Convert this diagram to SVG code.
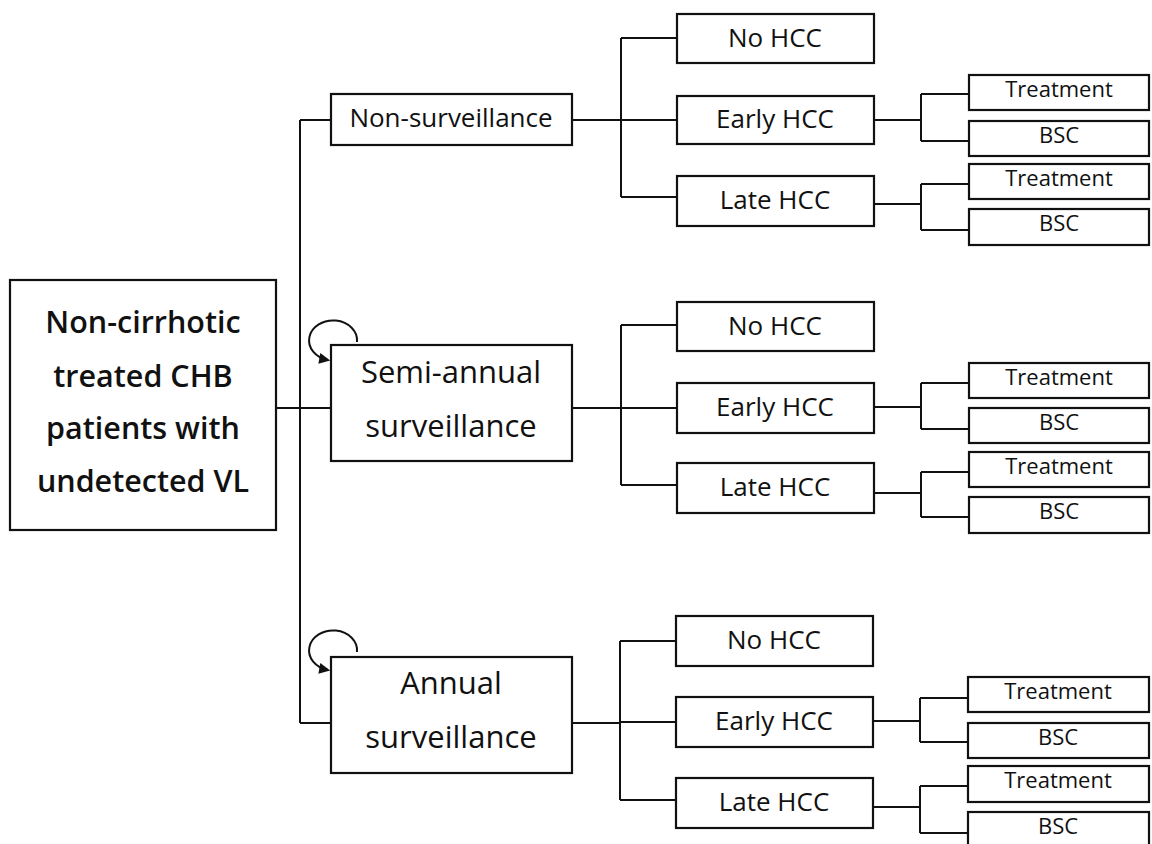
<svg xmlns="http://www.w3.org/2000/svg" width="1152" height="844" viewBox="0 0 1152 844">
<style>
.box{fill:#fff;stroke:#111;stroke-width:2.2}
.ln{fill:none;stroke:#111;stroke-width:2}
text{font-family:"Open Sans","Noto Sans","Liberation Sans",sans-serif;fill:#111;text-anchor:middle}
.t1{font-size:30.5px;font-weight:600}
.t2{font-size:31px}
.t3{font-size:26px}
.t4{font-size:22px}
</style>
<defs>
<marker id="ah" viewBox="0 0 10 10" refX="8" refY="5" markerWidth="6" markerHeight="5.5" orient="auto" markerUnits="strokeWidth">
<path d="M0,0 L10,5 L0,10 z" fill="#111"/>
</marker>
</defs>
<rect width="1152" height="844" fill="#fff"/>
<g id="connectors">
<path class="ln" d="M300,120 V723 M300,120 H331 M276,408 H331 M300,723 H331"/>
<path class="ln" marker-end="url(#ah)" d="M357,342 A24,20 0 1,0 328,360"/>
<path class="ln" marker-end="url(#ah)" d="M357,652 A24,20 0 1,0 328,670"/>
<path class="ln" d="M572,120 H621 M621,38 V197 M621,38 H677 M621,120 H677 M621,197 H677"/>
<path class="ln" d="M874,120 H921 M921,94 V141 M921,94 H969 M921,141 H969"/>
<path class="ln" d="M874,204 H921 M921,184 V230 M921,184 H969 M921,230 H969"/>
<path class="ln" d="M572,408 H621 M621,325 V485 M621,325 H677 M621,408 H677 M621,485 H677"/>
<path class="ln" d="M874,407 H921 M921,383 V429 M921,383 H969 M921,429 H969"/>
<path class="ln" d="M874,493 H921 M921,472 V517 M921,472 H969 M921,517 H969"/>
<path class="ln" d="M572,723 H620 M620,641 V800 M620,641 H677 M620,722 H677 M620,800 H677"/>
<path class="ln" d="M874,721 H920 M920,698 V742 M920,698 H968 M920,742 H968"/>
<path class="ln" d="M874,807 H920 M920,786 V833 M920,786 H968 M920,833 H968"/>
</g>
<g id="root">
<rect class="box" x="10" y="280" width="266" height="250"/>
<text class="t1" x="143" y="333">Non-cirrhotic</text>
<text class="t1" x="143" y="387">treated CHB</text>
<text class="t1" x="143" y="439">patients with</text>
<text class="t1" x="143" y="492">undetected VL</text>
</g>
<g id="non-surveillance">
<rect class="box" x="331" y="94" width="241" height="51"/>
<text class="t3" x="451" y="127">Non-surveillance</text>
</g>
<g id="semi-annual">
<rect class="box" x="331" y="345" width="241" height="116"/>
<text class="t2" x="451" y="383">Semi-annual</text>
<text class="t2" x="451" y="437">surveillance</text>
</g>
<g id="annual">
<rect class="box" x="331" y="657" width="241" height="116"/>
<text class="t2" x="451" y="694">Annual</text>
<text class="t2" x="451" y="748">surveillance</text>
</g>
<g id="ns-nohcc"><rect class="box" x="677" y="14" width="197" height="49"/><text class="t3" x="775" y="47">No HCC</text></g>
<g id="ns-early"><rect class="box" x="677" y="96" width="197" height="48"/><text class="t3" x="775" y="128">Early HCC</text></g>
<g id="ns-late"><rect class="box" x="677" y="176" width="197" height="50"/><text class="t3" x="775" y="209">Late HCC</text></g>
<g id="ns-early-tx"><rect class="box" x="969" y="75" width="180" height="35"/><text class="t4" x="1059" y="97">Treatment</text></g>
<g id="ns-early-bsc"><rect class="box" x="969" y="121" width="180" height="35"/><text class="t4" x="1059" y="143">BSC</text></g>
<g id="ns-late-tx"><rect class="box" x="969" y="164" width="180" height="35"/><text class="t4" x="1059" y="186">Treatment</text></g>
<g id="ns-late-bsc"><rect class="box" x="969" y="209" width="180" height="36"/><text class="t4" x="1059" y="231">BSC</text></g>
<g id="sa-nohcc"><rect class="box" x="677" y="302" width="197" height="49"/><text class="t3" x="775" y="335">No HCC</text></g>
<g id="sa-early"><rect class="box" x="677" y="383" width="197" height="50"/><text class="t3" x="775" y="416">Early HCC</text></g>
<g id="sa-late"><rect class="box" x="677" y="463" width="197" height="50"/><text class="t3" x="775" y="496">Late HCC</text></g>
<g id="sa-early-tx"><rect class="box" x="969" y="363" width="180" height="35"/><text class="t4" x="1059" y="385">Treatment</text></g>
<g id="sa-early-bsc"><rect class="box" x="969" y="408" width="180" height="35"/><text class="t4" x="1059" y="430">BSC</text></g>
<g id="sa-late-tx"><rect class="box" x="969" y="452" width="180" height="35"/><text class="t4" x="1059" y="474">Treatment</text></g>
<g id="sa-late-bsc"><rect class="box" x="969" y="497" width="180" height="36"/><text class="t4" x="1059" y="519">BSC</text></g>
<g id="an-nohcc"><rect class="box" x="676" y="616" width="197" height="50"/><text class="t3" x="774" y="649">No HCC</text></g>
<g id="an-early"><rect class="box" x="676" y="697" width="197" height="50"/><text class="t3" x="774" y="730">Early HCC</text></g>
<g id="an-late"><rect class="box" x="676" y="778" width="197" height="50"/><text class="t3" x="774" y="811">Late HCC</text></g>
<g id="an-early-tx"><rect class="box" x="968" y="677" width="181" height="35"/><text class="t4" x="1058" y="699">Treatment</text></g>
<g id="an-early-bsc"><rect class="box" x="968" y="723" width="181" height="35"/><text class="t4" x="1058" y="745">BSC</text></g>
<g id="an-late-tx"><rect class="box" x="968" y="766" width="181" height="36"/><text class="t4" x="1058" y="788">Treatment</text></g>
<g id="an-late-bsc"><rect class="box" x="968" y="812" width="181" height="36"/><text class="t4" x="1058" y="834">BSC</text></g>
</svg>
